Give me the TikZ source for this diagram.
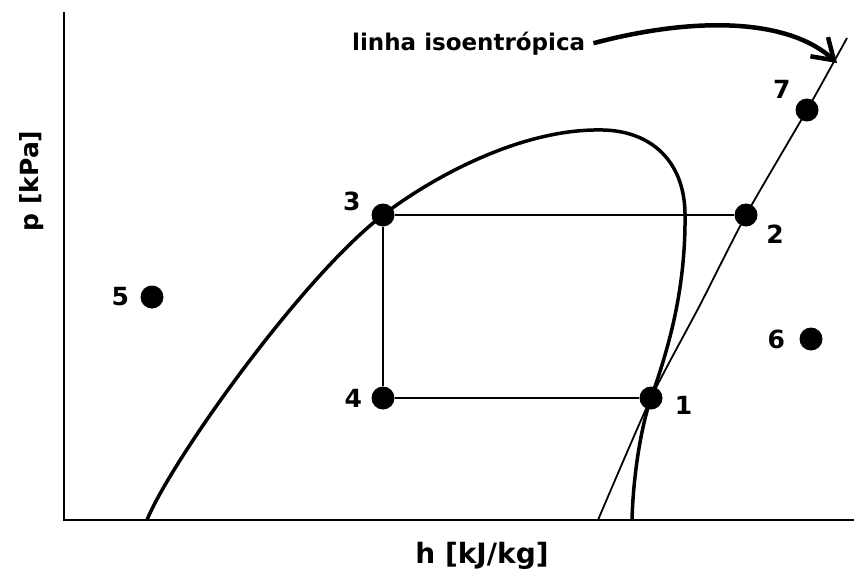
\documentclass[tikz,border=0pt]{standalone}
\usepackage{fontspec}
\setmainfont{DejaVu Sans}
\usetikzlibrary{arrows.meta, positioning}

\begin{document}
\begin{tikzpicture}[
    x=1pt, y=-1pt,
    font=\bfseries,
    dot/.style={circle, fill=black, minimum size=23pt, inner sep=0pt},
    num/.style={font=\fontsize{25}{25}\selectfont\bfseries, inner sep=0pt},
    axislabel/.style={font=\fontsize{28}{28}\selectfont\bfseries, inner sep=0pt},
    axis/.style={line width=2.4pt},
    dome/.style={line width=3.5pt, line join=round},
    cycle/.style={line width=1.6pt},
    isoline/.style={line width=1.8pt},
    arrowline/.style={line width=4.5pt, -{Straight Barb[length=20pt, width=26pt]}}
]
\useasboundingbox (0,0) rectangle (854,570);

% Axes
\coordinate (origin) at (64,520);
\coordinate (ytop) at (64,12);
\coordinate (xend) at (854,520);
\draw[axis] (ytop) -- (origin) -- (xend);
\node[axislabel, anchor=base] (xlabel) at (482,563) {h [kJ/kg]};
\node[axislabel, font=\fontsize{25}{25}\selectfont\bfseries, rotate=90, anchor=base] (ylabel) at (38,181) {p [kPa]};

% Saturation dome
\draw[dome] (147,520) .. controls (170,463) and (300,279) .. (383,215)
    .. controls (430,179) and (520,128) .. (603,130)
    .. controls (650,131) and (684,160) .. (685,213)
    .. controls (686,290) and (668,350) .. (651,398)
    .. controls (640,430) and (633,480) .. (632,520);

% Isentropic line
\draw[isoline] plot[smooth, tension=0.4] coordinates {
    (598,520) (651,398) (700,305) (746,215) (807,110) (847,38)};

% State points
\node[dot] (p1) at (651,398) {};
\node[dot] (p2) at (746,215) {};
\node[dot] (p3) at (383,215) {};
\node[dot] (p4) at (383,398) {};
\node[dot] (p5) at (152,297) {};
\node[dot] (p6) at (811,339) {};
\node[dot] (p7) at (807,110) {};

% Point labels
\node[num, right=12pt of p1, yshift=-7pt] (l1) {1};
\node[num, below right=1pt and 12pt of p2] (l2) {2};
\node[num, above left=-4pt and 14pt of p3] (l3) {3};
\node[num, left=9pt of p4] (l4) {4};
\node[num, left=11pt of p5] (l5) {5};
\node[num, left=14pt of p6] (l6) {6};
\node[num, above left=3pt and 8pt of p7] (l7) {7};

% Cycle
\draw[cycle] (p4) -- (p3) -- (p2);
\draw[cycle, line width=2.2pt] (p4) -- (p1);

% Isentropic annotation
\node[font=\fontsize{23}{23}\selectfont\bfseries, inner sep=0pt, anchor=base west] (txt) at (352,50) {linha isoentrópica};
\coordinate (tip) at (837,63);
\draw[arrowline] ([xshift=8pt]txt.east) .. controls (700,15) and (790,20) .. (tip);

\end{tikzpicture}
\end{document}
